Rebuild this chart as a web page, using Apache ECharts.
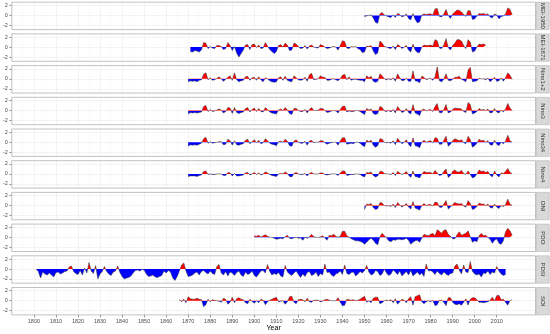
<!DOCTYPE html>
<html><head><meta charset="utf-8">
<script src="https://cdn.jsdelivr.net/npm/echarts@6/dist/echarts.min.js"></script>
<style>html,body{margin:0;padding:0;background:#fff}#c{width:550px;height:334px}</style>
</head><body><div id="c"></div>
<script>
const panelNames = ['MEI-1950','MEI-1871','Nino1+2','Nino3','Nino34','Nino4','ONI','PDO','PDSI','SOI'];
const startYears = [1950,1871,1870,1870,1870,1870,1950,1900,1801,1866];
const xTickYears = [1800,1810,1820,1830,1840,1850,1860,1870,1880,1890,1900,1910,1920,1930,1940,1950,1960,1970,1980,1990,2000,2010];
const yTickValues = [-2,0,2];

const mei1950 = [
-0.2,-0.1,0.0,0.1,-0.5,-1.4,-1.6,0.3,0.6,0.1,
-0.1,-0.3,-0.4,0.1,-0.4,0.4,0.2,-0.3,-0.1,0.3,
-0.6,-0.9,0.4,-0.8,-1.5,-1.3,0.1,0.3,0.2,0.3,
0.3,0.1,1.3,1.4,-0.2,-0.3,0.3,1.2,0.0,-0.6,
0.3,0.7,1.1,1.0,0.7,0.2,-0.2,1.0,0.9,-0.8,
-0.7,-0.1,0.4,0.3,0.4,0.2,0.3,-0.3,-0.5,0.3,
0.1,-0.7,-0.2,-0.1,0.3,1.5,1.2,0.2];
const mei1871 = [
-0.9,-1.0,-0.7,-0.8,-1.0,-0.6,0.9,0.8,-0.3,0.1,
-0.2,-0.3,0.3,0.3,0.1,-0.5,-0.3,0.9,0.3,-0.7,
0.1,-1.2,-2.0,-1.3,-0.6,0.4,0.5,-0.5,0.5,0.6,
-0.1,0.4,-0.3,-0.2,0.9,0.2,-0.5,-0.9,-1.3,-0.9,
0.3,0.5,0.0,0.8,0.4,-0.7,-0.6,0.8,0.6,0.1,
-0.3,-0.2,0.3,-0.4,0.2,0.4,0.0,-0.1,-0.2,0.5,
0.3,0.0,-0.3,-0.2,0.0,0.1,0.0,-0.6,0.3,1.3,
1.1,-0.2,-0.3,0.1,0.0,0.1,-0.3,-0.5,-1.1,-1.0,
0.2,0.1,0.3,-0.8,-1.5,-1.2,1.2,0.8,0.1,0.0,
-0.2,-0.3,0.2,-0.5,0.5,0.2,-0.3,0.0,0.3,-0.6,
-1.0,0.6,-0.6,-1.1,-1.1,0.0,0.4,0.3,0.3,0.4,
0.2,1.5,1.3,-0.2,-0.3,0.4,1.7,-0.1,-0.6,0.3,
0.8,1.5,1.5,1.2,0.3,-0.3,1.5,1.0,-1.0,-0.8,
0.0,0.6,0.5,0.6,0.4];
const nino12 = [
-0.6,-0.4,-0.5,-0.4,-0.6,-0.3,-0.2,0.9,1.2,-0.2,
0.2,-0.3,-0.2,0.1,0.4,0.0,-0.5,-0.1,0.3,0.6,
-0.3,1.2,-0.2,-0.6,-0.4,-0.3,0.4,0.5,-0.3,0.2,
0.3,-0.3,0.4,-0.2,-0.6,0.2,0.0,-0.4,-0.6,-0.7,
-0.6,0.2,0.4,-0.3,0.5,-0.3,-0.5,-0.6,0.6,0.2,
-0.2,-0.3,-0.2,0.3,-0.5,0.8,1.1,-0.2,-0.1,0.0,
0.6,0.3,0.3,-0.3,-0.3,-0.1,0.0,-0.2,-0.4,0.0,
0.7,0.9,-0.2,0.4,-0.3,-0.1,-0.1,-0.2,-0.3,-0.3,
-0.6,0.6,0.2,0.5,-0.5,-0.7,-0.5,1.0,0.6,0.0,
-0.2,0.0,-0.2,0.2,-0.5,1.0,0.2,-0.4,-0.3,0.1,
-0.5,-0.5,1.6,-0.4,-0.5,-0.8,0.5,0.3,-0.2,0.0,
0.1,-0.3,0.4,2.4,-0.4,-0.6,-0.1,1.0,-0.3,-0.4,
-0.1,0.3,0.3,0.5,-0.1,-0.3,-0.6,1.7,2.3,-0.6,
-0.5,-0.4,0.1,0.0,0.0,-0.2,0.1,-0.6,-0.2,0.3,
-0.5,-0.4,0.2,-0.5,0.2,1.2,0.7,-0.1];
const nino3 = [
-0.7,-0.4,-0.5,-0.4,-0.5,-0.4,-0.3,0.8,1.0,-0.2,
0.2,-0.2,-0.1,0.1,0.3,0.1,-0.5,-0.2,0.6,0.5,
-0.6,0.6,-0.4,-0.6,-0.4,-0.3,0.4,0.6,-0.3,0.2,
0.5,-0.2,0.4,-0.2,-0.3,0.6,0.2,-0.3,-0.5,-0.6,
-0.7,0.1,0.3,0.0,0.6,0.1,-0.6,-0.8,0.4,0.4,
0.0,-0.2,-0.2,0.2,-0.5,0.2,0.6,0.0,0.0,0.1,
0.4,0.4,0.0,-0.4,-0.3,-0.1,0.0,-0.1,-0.5,0.2,
0.8,0.9,-0.3,-0.1,-0.2,-0.2,0.0,0.0,-0.2,-0.5,
-0.8,0.4,0.1,0.3,-0.6,-0.8,-0.6,0.8,0.6,-0.1,
-0.2,0.0,-0.3,0.2,-0.5,0.8,0.2,-0.4,-0.2,0.4,
-0.4,-0.7,1.2,-0.5,-0.7,-1.0,0.1,0.3,-0.1,0.1,
0.2,-0.2,0.8,1.4,-0.4,-0.5,0.2,1.2,-0.5,-0.3,
0.2,0.5,0.4,0.4,0.3,-0.2,-0.4,1.6,1.2,-0.7,
-0.5,-0.2,0.4,0.1,0.2,0.0,0.3,-0.5,-0.4,0.4,
-0.3,-0.5,0.1,-0.3,0.3,1.4,0.5,0.0];
const nino34 = [
-0.8,-0.5,-0.6,-0.5,-0.6,-0.4,-0.2,0.7,1.0,-0.2,
0.1,-0.2,-0.1,0.0,0.1,0.1,-0.5,-0.4,0.6,0.3,
-0.6,0.3,-0.5,-0.6,-0.4,-0.3,0.4,0.6,-0.3,0.1,
0.5,-0.1,0.4,-0.3,-0.1,0.7,0.3,-0.2,-0.4,-0.5,
-0.7,0.1,0.2,0.0,0.6,0.2,-0.7,-0.8,0.2,0.5,
0.0,-0.2,-0.2,0.2,-0.6,0.2,0.4,-0.1,0.0,0.0,
0.3,0.3,-0.1,-0.4,-0.2,-0.1,0.0,0.0,-0.6,0.3,
0.9,0.9,-0.4,-0.3,-0.2,-0.3,0.0,0.0,-0.2,-0.6,
-0.9,0.4,0.1,0.4,-0.6,-1.0,-0.7,0.7,0.6,0.0,
-0.1,0.0,-0.2,0.3,-0.5,0.8,0.2,-0.3,0.0,0.5,
-0.4,-0.9,0.9,-0.7,-0.8,-1.1,0.0,0.4,0.0,0.2,
0.3,-0.1,0.9,0.8,-0.4,-0.4,0.4,1.2,-0.8,-0.4,
0.3,0.7,0.5,0.3,0.5,-0.1,-0.3,1.2,0.5,-1.0,
-0.7,-0.2,0.6,0.3,0.4,0.0,0.3,-0.5,-0.6,0.4,
-0.4,-0.7,0.0,-0.3,0.2,1.4,0.3,0.0];
const nino4 = [
-0.5,-0.4,-0.4,-0.4,-0.5,-0.3,-0.2,0.5,0.6,-0.1,
0.0,-0.1,-0.1,0.0,0.0,0.0,-0.3,-0.3,0.3,0.2,
-0.4,0.1,-0.4,-0.4,-0.3,-0.2,0.2,0.3,-0.2,0.0,
0.3,-0.1,0.2,-0.2,0.0,0.4,0.2,-0.1,-0.3,-0.4,
-0.5,0.0,0.1,0.0,0.4,0.1,-0.5,-0.6,0.1,0.3,
0.0,-0.1,-0.1,0.1,-0.4,0.1,0.3,0.0,0.0,0.0,
0.2,0.2,-0.1,-0.2,-0.1,0.0,0.0,0.0,-0.3,0.2,
0.6,0.6,-0.3,-0.2,-0.1,-0.1,0.0,0.0,-0.1,-0.4,
-0.6,0.3,0.2,0.4,-0.3,-0.6,-0.4,0.5,0.5,0.1,
0.0,0.0,-0.1,0.3,-0.3,0.5,0.2,-0.1,0.1,0.5,
-0.2,-0.7,0.6,-0.5,-0.6,-0.8,0.0,0.5,0.3,0.3,
0.3,0.0,0.7,0.2,-0.3,-0.2,0.5,1.0,-0.7,-0.3,
0.5,0.8,0.4,0.4,0.7,0.1,-0.1,0.6,-0.1,-0.8,
-0.6,0.0,0.8,0.5,0.6,0.3,0.5,-0.2,-0.6,0.6,
-0.2,-0.6,0.2,0.1,0.5,1.1,0.3,0.1];
const oni = [
-0.8,0.3,0.2,0.4,-0.4,-0.8,-0.6,0.6,0.5,0.0,
-0.1,0.0,-0.2,0.3,-0.4,0.6,0.1,-0.3,0.0,0.4,
-0.3,-0.7,0.8,-0.5,-0.7,-0.9,0.0,0.4,0.0,0.2,
0.2,-0.1,0.7,0.6,-0.3,-0.4,0.3,1.0,-0.7,-0.3,
0.2,0.6,0.4,0.3,0.4,-0.1,-0.3,1.0,0.4,-0.8,
-0.6,-0.2,0.5,0.3,0.3,0.0,0.3,-0.4,-0.5,0.3,
-0.3,-0.6,0.0,-0.2,0.2,1.3,0.3,0.0];
const pdo = [
0.3,0.2,0.4,0.0,0.3,0.5,0.2,0.0,0.0,-0.2,
-0.4,-0.3,-0.2,-0.3,0.1,0.4,-0.2,-0.3,-0.1,0.0,
-0.2,-0.1,-0.6,0.0,-0.2,0.1,0.6,0.1,0.0,0.0,
0.1,0.3,-0.1,-0.6,0.4,0.3,0.6,0.2,0.0,0.2,
1.2,1.2,0.3,0.0,-0.3,-0.5,-0.7,-0.7,-0.8,-1.0,
-1.4,-1.0,-0.5,-0.2,-0.6,-1.2,-1.5,0.1,0.8,0.3,
-0.1,-0.7,-0.9,-0.5,-0.6,-0.4,-0.4,-0.5,-0.4,-0.2,
-0.6,-1.4,-1.0,-0.7,-0.6,-1.0,-0.2,0.6,0.4,0.3,
0.6,0.8,0.3,1.5,1.2,0.8,1.4,1.5,0.6,0.2,
-0.3,-0.3,0.5,1.1,0.4,0.6,0.8,1.3,0.1,-1.0,
-0.7,-0.9,0.3,0.8,0.3,0.4,0.0,-0.4,-1.2,-0.6,
-0.3,-1.2,-1.4,-0.7,1.1,1.8,1.3,0.4];
const pdsi = [
0.0,-0.5,-1.8,-0.6,-1.0,-1.2,-0.8,-1.2,-1.6,-0.7,
-0.6,-1.0,-0.8,-0.5,-0.4,0.4,0.6,-0.5,-0.9,-1.1,
-0.3,-1.2,0.2,-0.8,1.3,-0.4,-0.9,0.7,-2.0,-1.0,
-0.5,0.5,-0.5,-1.0,-1.3,-0.6,-0.4,0.6,-0.7,-1.5,
-2.0,-1.8,-1.7,-1.4,-0.8,-0.3,-0.2,-0.4,-0.1,-0.2,
-1.0,-1.5,-1.4,-1.2,-1.6,-1.7,-1.5,-1.3,-0.4,-0.8,
-0.3,-0.6,-1.8,-2.3,-1.5,-0.4,0.8,1.2,-0.4,-1.5,
-1.4,-1.2,-0.8,-0.6,-1.2,-0.5,-0.3,-0.7,-1.0,-0.4,
-0.9,-1.1,0.5,0.9,-0.8,-1.2,-0.5,-1.4,-0.6,-0.8,
-1.3,-0.7,-0.4,-1.2,-1.5,-0.6,-1.1,-0.9,-0.4,-1.3,
-1.6,-1.0,-0.4,-0.3,-0.8,0.9,-0.5,-1.2,-0.9,-1.1,
-0.7,-1.4,-1.6,0.7,-0.6,-1.0,-1.3,-0.8,-0.4,-1.1,
-1.7,-1.0,-1.5,-0.7,-0.5,-1.3,-1.1,-0.6,-1.5,-0.9,
-1.2,1.0,-0.7,-0.6,-1.2,-1.5,-1.0,-0.8,-0.4,-1.1,
0.8,-0.9,-1.1,-0.7,-0.6,-1.4,-1.0,-0.5,-0.8,-0.3,
0.7,-0.6,-1.2,-1.0,-0.3,-0.5,-1.3,-1.0,0.0,-0.8,
-1.3,-1.0,-0.2,-0.6,-1.1,-0.4,-1.4,-0.9,-0.5,-1.2,
-0.3,-1.4,-1.0,-0.6,-1.2,-0.8,-1.5,1.0,-0.4,-0.3,
-0.6,-1.1,-0.4,-0.9,-1.2,-0.6,-1.0,-1.3,-0.9,-0.8,
0.6,1.0,-0.2,-1.0,0.8,-0.6,-0.7,1.5,-0.5,-1.0,
-1.2,-1.0,-1.6,-0.8,-0.9,-0.4,-1.1,-0.6,-0.8,0.5,
-0.4,-1.0,-1.3,-1.1];
const soi = [
0.2,-0.2,0.3,-0.4,
0.8,0.4,0.3,0.3,0.5,0.3,0.2,-1.2,-0.8,0.3,
-0.2,0.2,0.1,0.0,-0.1,-0.3,0.5,0.3,-0.7,-0.3,
0.7,-0.4,0.4,0.6,0.3,0.2,-0.4,-0.6,0.3,-0.1,
-0.5,0.0,-0.4,0.3,0.1,-0.8,-0.2,0.1,0.3,0.5,
0.7,-0.2,-0.1,0.0,-0.7,-0.2,0.8,0.9,-0.3,-0.6,
0.2,0.3,0.2,-0.2,0.5,-0.2,-0.3,0.1,0.1,0.1,
-0.2,-0.1,0.2,0.3,0.1,0.0,0.0,0.0,0.6,-0.3,
-1.0,-0.9,0.3,0.2,0.1,0.2,0.0,0.1,0.3,0.6,
0.9,-0.3,0.0,-0.4,0.5,0.7,0.7,-0.6,-0.4,0.0,
0.1,0.0,0.2,-0.4,0.4,-0.7,-0.2,0.3,0.1,-0.4,
0.4,0.8,-0.9,0.8,1.0,1.2,-0.2,-0.6,-0.2,0.0,
-0.2,0.1,-1.0,-0.8,0.1,0.1,-0.3,-1.0,0.6,0.6,
-0.3,-0.7,-0.8,-0.6,-0.9,-0.3,0.4,-0.9,0.3,0.6,
0.6,0.2,-0.3,-0.3,-0.4,-0.3,-0.2,0.1,0.7,0.0,
1.0,1.1,0.2,0.3,-0.3,-0.9,0.0,0.2];

const seriesValues = [mei1950, mei1871, nino12, nino3, nino34, nino4, oni, pdo, pdsi, soi];

const N = panelNames.length;
const top0 = 2.2, pitch = 31.7, ph = 27.4;
const gridL = 11.8, gridR = 9.2;      // x axis 1790..2030
const panelRight = 535.5;
const stripX = 536.4, stripW = 12.8;

const chart = echarts.init(document.getElementById('c'), null, {renderer:'canvas'});

const grids = [], xAxes = [], yAxes = [], series = [], visualMaps = [], graphics = [];
for (let i = 0; i < N; i++) {
  const top = top0 + pitch * i;
  const last = i === N - 1;
  grids.push({left: gridL, right: gridR, top: top, height: ph});
  xAxes.push({
    type: 'value', gridIndex: i, min: 1790, max: 2030, interval: 10, position: 'bottom',
    axisLine: {show: false, onZero: false},
    axisTick: {show: last, length: 2.5, lineStyle: {color: '#4D4D4D', width: 0.6}, customValues: xTickYears},
    axisLabel: {show: last, customValues: xTickYears, fontSize: 5.5, color: '#4D4D4D', margin: 4,
      fontFamily: 'Liberation Sans, Arial, sans-serif', formatter: v => String(v)},
    splitLine: {show: true, lineStyle: {color: '#EBEBEB', width: 0.6}},
    minorTick: {show: false, splitNumber: 2},
    minorSplitLine: {show: true, lineStyle: {color: '#F5F5F5', width: 0.4}}
  });
  yAxes.push({
    type: 'value', gridIndex: i, min: -2.85, max: 2.65, splitNumber: 5,
    axisLine: {show: false, onZero: false},
    axisTick: {show: true, length: 2.5, lineStyle: {color: '#4D4D4D', width: 0.6}, customValues: yTickValues},
    axisLabel: {show: true, customValues: yTickValues, fontSize: 5.5, color: '#4D4D4D', margin: 4,
      fontFamily: 'Liberation Sans, Arial, sans-serif',
      formatter: v => (yTickValues.indexOf(Math.round(v * 100) / 100) >= 0 ? String(v) : '')},
    splitLine: {show: true, lineStyle: {color: '#EBEBEB', width: 0.6}}
  });
  const vals = seriesValues[i];
  series.push({
    type: 'line', xAxisIndex: i, yAxisIndex: i, name: panelNames[i],
    data: vals.map((v, k) => [startYears[i] + k, v]),
    symbol: 'none', smooth: false,
    lineStyle: {color: '#333333', width: 0.5},
    areaStyle: {opacity: 1, origin: 0},
    z: 3
  });
  visualMaps.push({
    type: 'piecewise', show: false, seriesIndex: i, dimension: 1,
    pieces: [{gt: 0, lte: 100, color: '#FF0000'}, {gt: -100, lte: 0, color: '#0000FF'}]
  });
  graphics.push({type: 'rect', z: 50, silent: true,
    shape: {x: gridL, y: top, width: panelRight - gridL, height: ph},
    style: {fill: 'none', stroke: '#B3B3B3', lineWidth: 0.8}});
  graphics.push({type: 'rect', z: 49, silent: true,
    shape: {x: panelRight + 0.45, y: top - 1, width: 550 - panelRight, height: ph + 2},
    style: {fill: '#FFFFFF'}});
  graphics.push({type: 'rect', z: 51, silent: true,
    shape: {x: stripX, y: top, width: stripW, height: ph},
    style: {fill: '#D9D9D9', stroke: '#B3B3B3', lineWidth: 0.6}});
  graphics.push({type: 'text', z: 52, silent: true,
    x: stripX + stripW / 2, y: top + ph / 2, rotation: -Math.PI / 2,
    style: {text: panelNames[i], fill: '#333333', fontSize: 6, align: 'center', verticalAlign: 'middle',
      fontFamily: 'Liberation Sans, Arial, sans-serif'}});
}
graphics.push({type: 'text', z: 52, silent: true,
  x: (gridL + panelRight) / 2, y: 328.5,
  style: {text: 'Year', fill: '#000000', fontSize: 7, align: 'center', verticalAlign: 'middle',
    fontFamily: 'Liberation Sans, Arial, sans-serif'}});

chart.setOption({
  animation: false,
  backgroundColor: '#FFFFFF',
  grid: grids, xAxis: xAxes, yAxis: yAxes, series: series, visualMap: visualMaps,
  graphic: graphics
});
</script>
</body></html>
